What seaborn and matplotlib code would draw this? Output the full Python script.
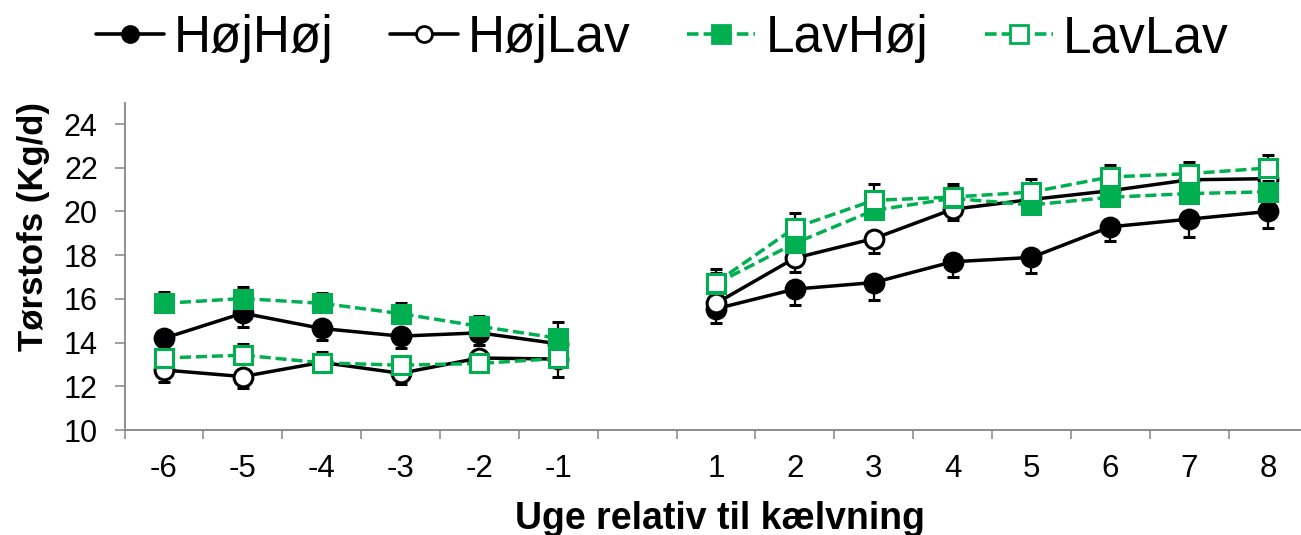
import numpy as np
import pandas as pd
import matplotlib
matplotlib.use("Agg")
import matplotlib.pyplot as plt
from matplotlib.lines import Line2D
import seaborn as sns

# Weeks relative to calving (no week 0)
weeks = [-6, -5, -4, -3, -2, -1, 1, 2, 3, 4, 5, 6, 7, 8]

# Dry matter intake, kg/d, per treatment group
hoj_hoj = [14.2, 15.35, 14.65, 14.3, 14.45, 13.95, 15.55, 16.45, 16.75, 17.7, 17.9, 19.3, 19.65, 20.0]
hoj_lav = [12.75, 12.45, 13.1, 12.6, 13.3, 13.25, 15.8, 17.87, 18.76, 20.1, 20.55, 20.95, 21.45, 21.5]
lav_hoj = [15.8, 16.02, 15.8, 15.33, 14.75, 14.2, 16.7, 18.55, 20.05, 20.6, 20.3, 20.65, 20.82, 20.9]
lav_lav = [13.3, 13.43, 13.08, 12.97, 13.05, 13.28, 16.75, 19.26, 20.51, 20.66, 20.89, 21.58, 21.73, 21.99]

# Standard errors (drawn below for the Høj-start groups, above for the Lav-start groups)
se_hoj_hoj = [0.5, 0.65, 0.55, 0.55, 0.55, 0.5, 0.65, 0.72, 0.78, 0.68, 0.7, 0.64, 0.8, 0.75]
se_hoj_lav = [0.53, 0.5, 0.45, 0.5, 0.4, 0.84, 0.5, 0.64, 0.66, 0.5, 0.5, 0.5, 0.5, 0.5]
se_lav_hoj = [0.52, 0.53, 0.48, 0.49, 0.46, 0.75, 0.5, 0.6, 0.5, 0.5, 0.5, 0.5, 0.5, 0.5]
se_lav_lav = [0.4, 0.5, 0.5, 0.41, 0.4, 0.4, 0.64, 0.67, 0.76, 0.61, 0.61, 0.53, 0.53, 0.58]

groups = ["HøjHøj", "HøjLav", "LavHøj", "LavLav"]

GREEN = "#00B050"
GREY = "#868686"
FONT = ["Liberation Sans", "DejaVu Sans"]

sns.set_style("white")
plt.rcParams["font.family"] = FONT
plt.rcParams["text.color"] = "black"
plt.rcParams["axes.labelcolor"] = "black"

rows = []
for g, vals, se in zip(groups, [hoj_hoj, hoj_lav, lav_hoj, lav_lav],
                       [se_hoj_hoj, se_hoj_lav, se_lav_hoj, se_lav_lav]):
    for w, v, e in zip(weeks, vals, se):
        rows.append({"gruppe": g, "uge": w, "pos": w + 6, "dmi": v, "se": e,
                     "periode": "før" if w < 0 else "efter"})
df = pd.DataFrame(rows)

DASH = (0, (3.2, 1.4))
styles = {
    "HøjHøj": dict(color="black", marker="o", mfc="black", ls="-", side="down"),
    "HøjLav": dict(color="black", marker="o", mfc="white", ls="-", side="down"),
    "LavHøj": dict(color=GREEN, marker="s", mfc=GREEN, ls=DASH, side="up"),
    "LavLav": dict(color=GREEN, marker="s", mfc="white", ls=DASH, side="up"),
}

fig = plt.figure(figsize=(13.01, 5.35), dpi=100)
ax = fig.add_axes([0.0957, 0.196, 0.9093, 0.611])

for i, g in enumerate(groups):
    st = styles[g]
    z = 3 + i
    gd = df[df.gruppe == g]
    for per in ["før", "efter"]:
        seg = gd[gd.periode == per]
        if st["side"] == "down":
            yerr = [seg.se.values, np.zeros(len(seg))]
        else:
            yerr = [np.zeros(len(seg)), seg.se.values]
        ax.errorbar(seg.pos, seg.dmi, yerr=yerr, fmt="none", ecolor="black",
                    elinewidth=1.6, capsize=4.5, capthick=2.2, zorder=z)
        sns.lineplot(data=seg, x="pos", y="dmi", ax=ax, color=st["color"],
                     linestyle=st["ls"], linewidth=2.5, marker=st["marker"],
                     markersize=13.5 if st["marker"] == "s" else 13.5,
                     markerfacecolor=st["mfc"], markeredgecolor=st["color"],
                     markeredgewidth=2.2, zorder=z + 0.5, legend=False)

ax.set_xlim(-0.5, 14.5)
ax.set_ylim(10, 24.95)
ax.set_yticks(np.arange(10, 25, 2))
ax.set_yticklabels([str(v) for v in range(10, 25, 2)])

# category boundaries carry the tick marks, centres carry the labels
ax.set_xticks(np.arange(-0.5, 15, 1))
ax.set_xticklabels([])
ax.set_xticks([w + 6 for w in weeks], minor=True)
ax.set_xticklabels([str(w) for w in weeks], minor=True)

ax.tick_params(axis="x", which="major", direction="out", length=6.5, width=1.1,
               color=GREY, bottom=True)
ax.tick_params(axis="x", which="minor", length=0, labelsize=22.5, pad=17,
               labelcolor="black")
ax.tick_params(axis="y", which="major", direction="out", length=7.2, width=1.1,
               color=GREY, left=True, labelsize=22, pad=12, labelcolor="black")

for side in ["top", "right"]:
    ax.spines[side].set_visible(False)
for side in ["left", "bottom"]:
    ax.spines[side].set_color(GREY)
    ax.spines[side].set_linewidth(1.3)

ax.set_xlabel("Uge relativ til kælvning", fontsize=27, fontweight="bold", color="black")
ax.xaxis.label.set_va("baseline")
ax.xaxis.set_label_coords(0.503, -0.303)
ax.set_ylabel("Tørstofs (Kg/d)", fontsize=25, fontweight="bold", color="black")
ax.yaxis.set_label_coords(-0.063, 0.623)

handles = []
for g in groups:
    st = styles[g]
    handles.append(Line2D([], [], color=st["color"], linestyle=st["ls"], linewidth=2.6,
                          marker=st["marker"],
                          markersize=12.5 if st["marker"] == "s" else 11.5,
                          markerfacecolor=st["mfc"], markeredgecolor=st["color"],
                          markeredgewidth=2))
leg = fig.legend(handles, groups, loc="center", bbox_to_anchor=(0.509, 0.928), ncol=4,
                 frameon=False, fontsize=37, handlelength=1.32, handletextpad=0.2,
                 columnspacing=1.1, numpoints=1)
for t in leg.get_texts():
    t.set_color("black")

fig.savefig("out.png", dpi=100)
